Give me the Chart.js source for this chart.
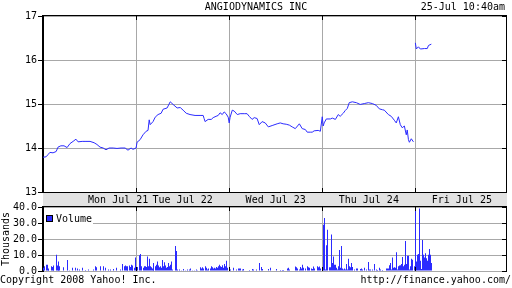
<!DOCTYPE html>
<html>
<head>
<meta charset="utf-8">
<script src="https://cdn.jsdelivr.net/npm/chart.js@4.4.1/dist/chart.umd.min.js"></script>
<style>
    html, body { margin: 0; padding: 0; background: #fff; }
    #wrap { position: relative; width: 512px; height: 288px; overflow: hidden;
            font: 10px "DejaVu Sans Mono", monospace; color: #000; }
    #wrap canvas { position: absolute; left: 0; }
    #price-canvas { top: 0; }
    #volume-canvas { top: 200px; }
    .txt { position: absolute; white-space: pre; line-height: 12px; }
</style>
</head>
<body>
<div id="wrap">
    <canvas id="price-canvas" width="512" height="206"></canvas>
    <canvas id="volume-canvas" width="512" height="88"></canvas>
    <div class="txt" style="left:0;width:512px;text-align:center;top:1px">ANGIODYNAMICS INC</div>
    <div class="txt" style="right:7px;top:1px">25-Jul 10:40am</div>
    <div class="txt" style="left:0;top:274px">Copyright 2008 Yahoo! Inc.</div>
    <div class="txt" style="right:1px;top:274px">http://finance.yahoo.com/</div>
</div>
<script>
// Axe du temps : minutes de séance depuis l'ouverture du lundi (390 min par jour)
const SESSION_END = 1944;
const dayStarts = [390, 780, 1170, 1560];
const dayLabels = ['Mon Jul 21', 'Tue Jul 22', 'Wed Jul 23', 'Thu Jul 24', 'Fri Jul 25'];
const dayLabelAt = [315, 585, 975, 1365, 1755];

const priceTicks = [13, 14, 15, 16, 17];
const volumeTicks = [0, 10, 20, 30, 40];

// Cours (USD)
const monPriceTime = [0, 13, 21, 29, 42, 55, 63, 75, 88, 101, 113, 126, 138, 147, 164, 180, 197, 214, 226, 239, 252, 264, 277, 294, 310, 327, 344, 356, 369, 377, 390];
const monPrice = [13.79, 13.8, 13.85, 13.9, 13.89, 13.92, 14.02, 14.05, 14.05, 14.01, 14.1, 14.15, 14.2, 14.14, 14.15, 14.15, 14.15, 14.12, 14.08, 14.02, 14.0, 13.96, 14.0, 14.0, 13.99, 14.0, 14.0, 13.95, 14.0, 13.97, 14.0];
const tuePriceTime = [394, 407, 419, 432, 440, 445, 449, 461, 470, 482, 495, 503, 520, 533, 545, 562, 575, 587, 600, 616, 637, 658, 671, 675, 679, 692, 705, 713, 725, 734, 742, 751, 759, 767, 776];
const tuePrice = [14.13, 14.19, 14.3, 14.38, 14.4, 14.64, 14.53, 14.6, 14.7, 14.76, 14.79, 14.88, 14.91, 15.05, 14.99, 14.91, 14.92, 14.86, 14.79, 14.76, 14.74, 14.74, 14.74, 14.67, 14.6, 14.65, 14.65, 14.69, 14.72, 14.74, 14.8, 14.76, 14.82, 14.78, 14.7];
const wedPriceTime = [780, 784, 793, 801, 814, 826, 843, 855, 864, 876, 885, 897, 906, 918, 931, 944, 960, 981, 994, 1006, 1019, 1032, 1044, 1057, 1074, 1086, 1099, 1107, 1120, 1128, 1136, 1153, 1162];
const wedPrice = [14.57, 14.7, 14.86, 14.84, 14.76, 14.78, 14.78, 14.78, 14.72, 14.65, 14.69, 14.67, 14.53, 14.6, 14.57, 14.48, 14.51, 14.55, 14.57, 14.55, 14.54, 14.52, 14.48, 14.44, 14.55, 14.44, 14.42, 14.36, 14.36, 14.36, 14.39, 14.4, 14.38];
const thuPriceTime = [1170, 1174, 1178, 1187, 1204, 1212, 1225, 1237, 1245, 1258, 1266, 1275, 1283, 1296, 1313, 1329, 1346, 1363, 1380, 1396, 1409, 1422, 1430, 1447, 1459, 1472, 1480, 1489, 1497, 1505, 1514, 1522, 1526, 1531, 1535, 1543, 1552, 1556];
const thuPrice = [14.71, 14.5, 14.57, 14.66, 14.66, 14.68, 14.65, 14.76, 14.72, 14.79, 14.85, 14.9, 15.03, 15.05, 15.03, 14.99, 15.01, 15.03, 15.01, 14.97, 14.89, 14.87, 14.86, 14.76, 14.72, 14.63, 14.57, 14.71, 14.53, 14.46, 14.5, 14.3, 14.41, 14.19, 14.13, 14.21, 14.14, null];
const friPriceTime = [1560, 1564, 1573, 1581, 1598, 1610, 1615, 1627];
const friPrice = [16.39, 16.25, 16.3, 16.25, 16.26, 16.26, 16.33, 16.36];

// Volume (milliers d'actions)
const monVolTime = [0, 8, 13, 17, 21, 25, 34, 38, 42, 46, 55, 59, 63, 67, 71, 84, 101, 109, 122, 138, 143, 151, 164, 176, 189, 210, 218, 226, 239, 252, 260, 273, 281, 294, 310, 323, 335, 340, 344, 348, 352, 356, 361, 365, 369, 373, 377, 382, 386];
const monVol = [2, 3, 4, 4, 1.5, 1, 3, 2.5, 3.4, 1, 10.2, 3.4, 6, 5, 3, 2.4, 7, 0.5, 2, 2, 1.5, 1, 2, 0.7, 1, 1, 3, 2.4, 3, 3, 2, 1, 1, 1.2, 2, 1, 4.4, 3, 3.4, 3, 2.5, 3, 3.4, 2.5, 4, 3, 3.4, 2, 8.5];
const tueVolTime = [394, 403, 407, 411, 419, 424, 428, 432, 436, 440, 445, 449, 453, 457, 461, 465, 470, 474, 478, 482, 486, 491, 495, 499, 503, 507, 512, 516, 520, 524, 528, 533, 537, 541, 554, 558, 562, 570, 579, 587, 595, 604, 612, 616, 625, 633, 642, 646, 658, 663, 667, 671, 679, 684, 688, 692, 700, 705, 709, 713, 717, 721, 725, 730, 734, 738, 742, 746, 751, 755, 759, 763, 767, 772];
const tueVol = [2.5, 10, 10.8, 3, 2, 3, 3, 2.5, 9.2, 3, 7.7, 3, 2.4, 1.5, 5, 2, 3, 4, 6, 3.4, 2.4, 3, 2, 7, 3, 5.5, 3.4, 2, 2.5, 5, 3, 4, 6, 1, 15.8, 12.7, 1, 1, 0.5, 1.3, 0.5, 1, 1, 1.5, 0.5, 0.5, 1, 0.5, 2.4, 1.5, 2.4, 1.5, 3, 2, 1, 1.5, 1.5, 3, 2.4, 1.5, 2, 1.5, 2.5, 2, 3, 4, 3, 2.5, 3.6, 2, 4.4, 3, 6.5, 2];
const wedVolTime = [784, 797, 809, 818, 822, 826, 835, 839, 864, 876, 881, 893, 906, 914, 918, 944, 952, 977, 994, 1002, 1006, 1023, 1027, 1032, 1057, 1061, 1065, 1074, 1078, 1082, 1086, 1090, 1099, 1107, 1111, 1115, 1124, 1128, 1132, 1136, 1149, 1153, 1157, 1162];
const wedVol = [1, 2, 1, 1.5, 1.5, 1.5, 1, 1.3, 0.7, 1.3, 1, 1, 5, 2.5, 1.3, 1.3, 2, 1.3, 0.7, 0.7, 0.7, 1.5, 2, 1, 2.8, 2.4, 1.5, 1, 2.5, 1.5, 4, 2, 1.5, 3, 2.4, 2, 1.5, 1.3, 2.8, 1.5, 3, 2.4, 2.8, 1.5];
const thuVolTime = [1174, 1178, 1183, 1187, 1191, 1199, 1204, 1208, 1212, 1216, 1220, 1225, 1229, 1233, 1237, 1241, 1245, 1250, 1254, 1258, 1262, 1266, 1271, 1275, 1279, 1283, 1287, 1292, 1296, 1304, 1313, 1317, 1329, 1334, 1338, 1346, 1355, 1363, 1367, 1371, 1380, 1388, 1396, 1401, 1409, 1413, 1422, 1438, 1443, 1447, 1451, 1455, 1459, 1464, 1468, 1472, 1476, 1480, 1485, 1489, 1493, 1497, 1501, 1505, 1510, 1514, 1518, 1522, 1526, 1531, 1535, 1539, 1543, 1547, 1556];
const thuVol = [29.2, 33.5, 1, 16.3, 26, 2.4, 2.4, 23, 5, 9.2, 4, 4, 2, 1, 3, 13.3, 2, 15.8, 1.5, 1, 1.5, 1, 4.4, 1, 7.7, 3, 2.4, 5, 2.5, 1, 1.5, 1.5, 1.3, 1.5, 1, 2, 1, 5.7, 1, 1, 1, 4.4, 1, 0.7, 2, 1, 0.7, 1.5, 1.5, 1.5, 3.6, 5, 1, 8.6, 2, 2.4, 2, 11.9, 1, 3, 3.4, 3.6, 4.4, 8.8, 3, 4, 18.9, 4.4, 9.6, 9.6, 1, 3, 7.7, 7.1, 3];
const friVolTime = [1560, 1564, 1568, 1573, 1577, 1581, 1585, 1589, 1594, 1598, 1602, 1606, 1610, 1615, 1619, 1623, 1627];
const friVol = [41, 6, 10.2, 10.8, 39.5, 6.5, 1.3, 19.5, 10.2, 8.6, 11.2, 8.1, 6.5, 10.2, 13.9, 10.2, 5];

const BLUE = '#2b2bff';
const GRID = '#a8a8a8';
const BAND = '#e2e2e2';
const FONT = { family: '"DejaVu Sans Mono", monospace', size: 10 };

const toPoints = (times, values) => times.map((x, i) => ({ x, y: values[i] }));

// Cadre noir + petites graduations internes
const framePlugin = {
    id: 'frame',
    afterDraw(chart, args, opts) {
        const { ctx, chartArea: a, scales } = chart;
        const align = p => Math.round(p - 0.5) + 0.5;
        ctx.save();
        ctx.strokeStyle = '#000';
        ctx.lineWidth = 1;
        ctx.beginPath();
        ctx.moveTo(a.left, a.top - 0.5);
        ctx.lineTo(a.right, a.top - 0.5);
        ctx.moveTo(a.right - 0.5, a.top - 1);
        ctx.lineTo(a.right - 0.5, a.bottom);
        if (opts.bottom) {
            ctx.moveTo(a.left, a.bottom + 0.5);
            ctx.lineTo(a.right, a.bottom + 0.5);
        }
        scales.x.ticks.forEach(t => {
            const px = align(scales.x.getPixelForValue(t.value));
            ctx.moveTo(px, a.top);
            ctx.lineTo(px, a.top + 4);
            ctx.moveTo(px, a.bottom);
            ctx.lineTo(px, a.bottom - 4);
        });
        scales.y.ticks.forEach(t => {
            const py = align(scales.y.getPixelForValue(t.value));
            ctx.moveTo(a.right - 5, py);
            ctx.lineTo(a.right, py);
        });
        ctx.stroke();
        ctx.restore();
    }
};

// Bande grise des dates sous le graphique des cours
const bandPlugin = {
    id: 'band',
    beforeDraw(chart) {
        const { ctx, chartArea: a } = chart;
        ctx.save();
        ctx.fillStyle = BAND;
        ctx.fillRect(a.left, a.bottom, a.right - a.left, chart.height - a.bottom);
        ctx.restore();
    }
};

// Barres d'un pixel calées sur la grille de pixels (sinon elles sont floues)
const snapBarsPlugin = {
    id: 'snapBars',
    afterDatasetsUpdate(chart) {
        chart.getDatasetMeta(0).data.forEach(el => {
            el.x = Math.round(el.x - 0.5) + 0.5;
        });
    }
};

// Légende « Volume » dans le coin haut gauche
const volumeLegendPlugin = {
    id: 'volumeLegend',
    afterDatasetsDraw(chart) {
        const { ctx, chartArea: a } = chart;
        ctx.save();
        ctx.fillStyle = '#fff';
        ctx.fillRect(a.left + 1, a.top + 2, 49, 16);
        ctx.fillStyle = BLUE;
        ctx.fillRect(a.left + 3, a.top + 8, 7, 7);
        ctx.strokeStyle = '#000';
        ctx.lineWidth = 1;
        ctx.strokeRect(a.left + 3.5, a.top + 8.5, 6, 6);
        ctx.fillStyle = '#000';
        ctx.font = '10px "DejaVu Sans Mono", monospace';
        ctx.textBaseline = 'middle';
        ctx.fillText(chart.data.datasets[0].label, a.left + 13, a.top + 12);
        ctx.restore();
    }
};

function initializePriceChart() {
    const points = [
        ...toPoints(monPriceTime, monPrice),
        ...toPoints(tuePriceTime, tuePrice),
        ...toPoints(wedPriceTime, wedPrice),
        ...toPoints(thuPriceTime, thuPrice),
        ...toPoints(friPriceTime, friPrice)
    ];
    new Chart(document.getElementById('price-canvas'), {
        type: 'line',
        data: {
            datasets: [{
                label: 'ANGO',
                data: points,
                borderColor: BLUE,
                borderWidth: 1,
                pointRadius: 0,
                tension: 0,
                spanGaps: false
            }]
        },
        options: {
            responsive: false,
            animation: false,
            layout: { padding: { top: 16, right: 5, left: 0, bottom: 0 } },
            plugins: { legend: { display: false }, tooltip: { enabled: false }, frame: { bottom: true } },
            scales: {
                x: {
                    type: 'linear', min: 0, max: SESSION_END, weight: 0,
                    afterBuildTicks: s => { s.ticks = dayStarts.map(v => ({ value: v })); },
                    afterFit: s => { s.height = 0; },
                    ticks: { display: false },
                    grid: { color: GRID, drawTicks: false },
                    border: { display: false }
                },
                days: {
                    type: 'linear', position: 'bottom', min: 0, max: SESSION_END, weight: 1,
                    afterBuildTicks: s => { s.ticks = dayLabelAt.map(v => ({ value: v })); },
                    afterFit: s => { s.height = 14; },
                    ticks: {
                        callback: (v, i) => dayLabels[i],
                        autoSkip: false, maxRotation: 0, padding: 2,
                        color: '#000', font: FONT
                    },
                    grid: { display: false, drawTicks: false },
                    border: { display: false }
                },
                y: {
                    min: 13, max: 17,
                    afterBuildTicks: s => { s.ticks = priceTicks.map(v => ({ value: v })); },
                    afterFit: s => { s.width = 43; },
                    ticks: { color: '#000', font: FONT, padding: 1 },
                    grid: { color: GRID, tickColor: '#000', tickLength: 5 },
                    border: { color: '#000', width: 2 }
                }
            }
        },
        plugins: [bandPlugin, framePlugin]
    });
}

function initializeVolumeChart() {
    const bars = [
        ...toPoints(monVolTime, monVol),
        ...toPoints(tueVolTime, tueVol),
        ...toPoints(wedVolTime, wedVol),
        ...toPoints(thuVolTime, thuVol),
        ...toPoints(friVolTime, friVol)
    ];
    new Chart(document.getElementById('volume-canvas'), {
        type: 'bar',
        data: {
            datasets: [{
                label: 'Volume',
                data: bars,
                backgroundColor: BLUE,
                borderWidth: 0,
                barThickness: 1,
                inflateAmount: 0
            }]
        },
        options: {
            responsive: false,
            animation: false,
            layout: { padding: { top: 6, right: 5, left: 0, bottom: 0 } },
            plugins: { legend: { display: false }, tooltip: { enabled: false }, frame: { bottom: false } },
            scales: {
                x: {
                    type: 'linear', min: 0, max: SESSION_END, offset: false,
                    afterBuildTicks: s => { s.ticks = dayStarts.map(v => ({ value: v })); },
                    afterFit: s => { s.height = 17; },
                    ticks: { display: false },
                    grid: { color: GRID, drawTicks: false, offset: false },
                    border: { display: false }
                },
                y: {
                    min: 0, max: 40.4,
                    afterBuildTicks: s => { s.ticks = volumeTicks.map(v => ({ value: v })); },
                    afterFit: s => { s.width = 43; },
                    ticks: { color: '#000', font: FONT, padding: 1, callback: v => v.toFixed(1) },
                    grid: { color: GRID, tickColor: '#000', tickLength: 5 },
                    border: { color: '#000', width: 2 },
                    title: { display: true, text: 'Thousands', color: '#000', font: FONT, padding: 0 }
                }
            }
        },
        plugins: [snapBarsPlugin, framePlugin, volumeLegendPlugin]
    });
}

document.addEventListener('DOMContentLoaded', () => {
    initializePriceChart();
    initializeVolumeChart();
});
</script>
</body>
</html>
